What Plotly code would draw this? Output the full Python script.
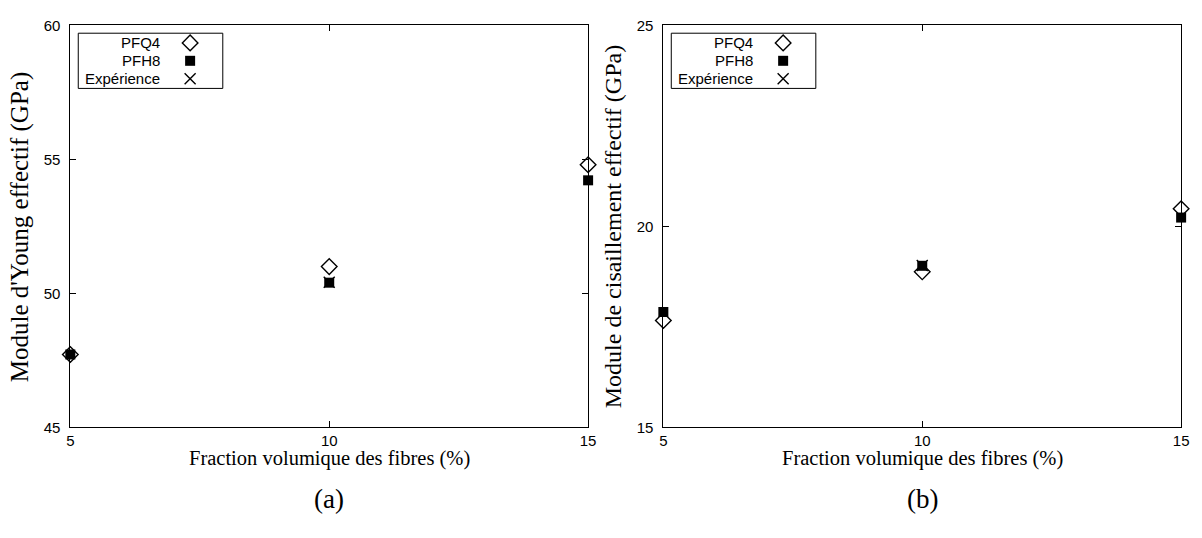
import plotly.graph_objects as go

# ---- data ----
vf = [5, 10, 15]
young_pfq4 = [47.72, 51.0, 54.8]
young_pfh8 = [47.72, 50.4, 54.22]
young_exp = [None, 50.42, None]
shear_pfq4 = [17.66, 18.87, 20.44]
shear_pfh8 = [17.87, 19.02, 20.22]
shear_exp = [None, 19.03, None]

series_names = ["PFQ4", "PFH8", "Expérience"]
x_ticks = [5, 10, 15]
young_ticks = [45, 50, 55, 60]
shear_ticks = [15, 20, 25]

x_title = "Fraction volumique des fibres (%)"
young_title = "Module d'Young effectif (GPa)"
shear_title = "Module de cisaillement effectif (GPa)"
panel_labels = ["(a)", "(b)"]

# ---- styles ----
W, H = 1202, 538
SANS = "Liberation Sans, Arial, sans-serif"
SERIF = "Liberation Serif, Times New Roman, serif"
sym = {
    "PFQ4": dict(symbol="diamond-open", size=12, color="black", line=dict(width=1.4, color="black")),
    "PFH8": dict(symbol="square", size=10, color="black", line=dict(width=0, color="black")),
    "Expérience": dict(symbol="x-thin-open", size=11, color="black", line=dict(width=1.4, color="black")),
}
ytitle_sizes = [25, 24]

# panel pixel boxes (left, right, top, bottom)
panels = [(67, 590, 17, 432), (666, 1189, 17, 432)]

fig = go.Figure()

def dom(p):
    l, r, t, b = p
    return [l / W, r / W], [1 - b / H, 1 - t / H]

datasets = [
    (young_pfq4, young_pfh8, young_exp, young_ticks),
    (shear_pfq4, shear_pfh8, shear_exp, shear_ticks),
]

for i, (p, (q4, h8, ex, yt)) in enumerate(zip(panels, datasets)):
    xa = "x" if i == 0 else "x2"
    ya = "y" if i == 0 else "y2"
    for name, vals in zip(series_names, [q4, h8, ex]):
        fig.add_trace(go.Scatter(x=vf, y=vals, mode="markers", name=name,
                                 marker=sym[name], xaxis=xa, yaxis=ya,
                                 showlegend=False, cliponaxis=False))
    xd, yd = dom(p)
    axcommon = dict(showline=True, linecolor="black", linewidth=1, mirror="ticks",
                    ticks="inside", ticklen=6, tickwidth=1, tickcolor="black",
                    showgrid=False, zeroline=False,
                    tickfont=dict(family=SANS, size=15, color="black"))
    fig.layout["xaxis" + ("" if i == 0 else "2")] = dict(
        domain=xd, range=[x_ticks[0], x_ticks[-1]], tickvals=x_ticks,
        anchor=ya, ticklabelstandoff=0, **axcommon)
    fig.layout["yaxis" + ("" if i == 0 else "2")] = dict(
        domain=yd, range=[yt[0], yt[-1]], tickvals=yt,
        anchor=xa, ticklabelstandoff=6, **axcommon)

# full-figure pixel axis used only for the legend symbols
fig.update_layout(
    xaxis3=dict(domain=[0, 1], range=[0, W], visible=False, fixedrange=True, anchor="y3"),
    yaxis3=dict(domain=[0, 1], range=[H, 0], visible=False, fixedrange=True, anchor="x3"),
)

annotations = []
shapes = []
leg_rows = [35, 53.5, 72]
for i, p in enumerate(panels):
    l, r, t, b = p
    bx0, by0 = l + 8, t + 8
    bx1, by1 = l + 154, t + 65
    shapes.append(dict(type="rect", xref="paper", yref="paper",
                       x0=bx0 / W, x1=bx1 / W, y0=1 - by0 / H, y1=1 - by1 / H,
                       line=dict(color="black", width=1), fillcolor="rgba(0,0,0,0)", layer="above"))
    for name, yy in zip(series_names, leg_rows):
        annotations.append(dict(x=(l + 93) / W, y=1 - yy / H, xref="paper", yref="paper",
                                text=name, showarrow=False, xanchor="right", yanchor="middle",
                                font=dict(family=SANS, size=15, color="black")))
        fig.add_trace(go.Scatter(x=[l + 121], y=[yy], mode="markers", marker=sym[name],
                                 xaxis="x3", yaxis="y3", showlegend=False, hoverinfo="skip"))
    # axis titles
    annotations.append(dict(x=(l + r) / 2 / W, y=1 - 464 / H, xref="paper", yref="paper",
                            text=x_title, showarrow=False, xanchor="center", yanchor="middle",
                            font=dict(family=SERIF, size=20.5, color="black")))
    annotations.append(dict(x=(l - 50) / W, y=1 - (t + b) / 2 / H, xref="paper", yref="paper",
                            text=[young_title, shear_title][i], showarrow=False, textangle=-90,
                            xanchor="center", yanchor="middle",
                            font=dict(family=SERIF, size=ytitle_sizes[i], color="black")))
    annotations.append(dict(x=(l + r) / 2 / W, y=1 - 506 / H, xref="paper", yref="paper",
                            text=panel_labels[i], showarrow=False, xanchor="center", yanchor="middle",
                            font=dict(family=SERIF, size=27, color="black")))

fig.update_layout(width=W, height=H, margin=dict(l=0, r=0, t=0, b=0),
                  plot_bgcolor="rgba(0,0,0,0)", paper_bgcolor="white",
                  annotations=annotations, shapes=shapes, showlegend=False)

fig.write_html("out.html", config={"displayModeBar": False},
               post_script="document.body.style.margin='0';document.body.style.overflow='hidden';")
